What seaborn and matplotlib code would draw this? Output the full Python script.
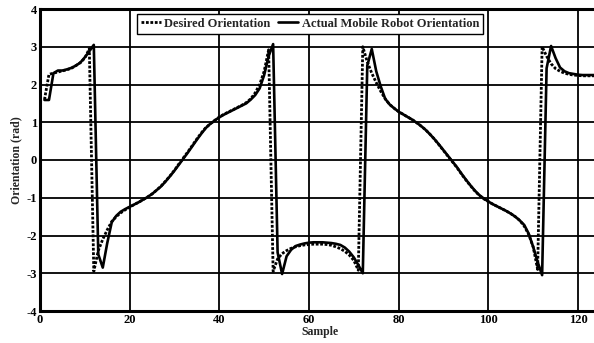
import numpy as np
import pandas as pd
import matplotlib
matplotlib.use("Agg")
import matplotlib.pyplot as plt
import seaborn as sns

samples = list(range(1, 125))

desired = [
    1.60, 2.27, 2.30, 2.33, 2.36, 2.39, 2.43, 2.50, 2.58, 2.70, 2.95,          # 1-11
    -2.95, -2.40, -2.10, -1.85, -1.63, -1.50, -1.40, -1.32, -1.25,               # 12-20
    -1.18, -1.12, -1.05, -0.98, -0.90, -0.80, -0.69, -0.56, -0.42, -0.27,       # 21-30
    -0.10, 0.06, 0.22, 0.39, 0.56, 0.72, 0.86, 0.96, 1.05, 1.14,                # 31-40
    1.21, 1.27, 1.33, 1.39, 1.45, 1.52, 1.62, 1.78, 2.00, 2.35, 2.92,           # 41-51
    -2.95, -2.62, -2.48, -2.40, -2.34, -2.30, -2.27, -2.25, -2.24,               # 52-60
    -2.23, -2.23, -2.23, -2.24, -2.26, -2.30, -2.35, -2.42, -2.52, -2.66, -2.92, # 61-71
    3.00, 2.60, 2.30, 2.05, 1.82, 1.62, 1.47, 1.37, 1.28,                        # 72-80
    1.21, 1.14, 1.07, 0.99, 0.90, 0.80, 0.68, 0.55, 0.40, 0.25,                 # 81-90
    0.10, -0.05, -0.20, -0.37, -0.53, -0.68, -0.82, -0.94, -1.03, -1.10,        # 91-100
    -1.17, -1.23, -1.29, -1.35, -1.42, -1.50, -1.60, -1.75, -1.97, -2.30, -2.90, # 101-111
    3.00, 2.75, 2.55, 2.42, 2.35, 2.30, 2.27, 2.25, 2.24, 2.23, 2.23, 2.23, 2.23, # 112-124
]

actual = [
    1.59, 1.59, 2.30, 2.37, 2.37, 2.40, 2.44, 2.50, 2.58, 2.72, 2.88, 3.05,     # 1-12
    -2.50, -2.85, -2.20, -1.65, -1.48, -1.37, -1.30, -1.24,                      # 13-20
    -1.18, -1.12, -1.05, -0.98, -0.90, -0.80, -0.70, -0.57, -0.43, -0.28,       # 21-30
    -0.12, 0.04, 0.20, 0.37, 0.54, 0.70, 0.85, 0.96, 1.05, 1.13,                # 31-40
    1.20, 1.26, 1.32, 1.38, 1.44, 1.50, 1.60, 1.72, 1.90, 2.25, 2.75, 3.07,     # 41-52
    -2.45, -3.02, -2.55, -2.38, -2.28, -2.24, -2.21, -2.19,                      # 53-60
    -2.18, -2.18, -2.18, -2.19, -2.20, -2.22, -2.25, -2.32, -2.43, -2.58, -2.78, -3.00, # 61-72
    2.50, 2.94, 2.35, 1.95, 1.62, 1.47, 1.37, 1.28,                              # 73-80
    1.21, 1.14, 1.07, 0.99, 0.90, 0.80, 0.68, 0.55, 0.41, 0.26,                 # 81-90
    0.11, -0.04, -0.19, -0.36, -0.52, -0.67, -0.81, -0.93, -1.02, -1.10,        # 91-100
    -1.17, -1.23, -1.29, -1.35, -1.42, -1.50, -1.60, -1.72, -1.95, -2.30, -2.70, -3.05, # 101-112
    2.43, 3.02, 2.70, 2.45, 2.35, 2.30, 2.28, 2.26, 2.25, 2.25, 2.25, 2.25,     # 113-124
]

x_ticks = [0, 20, 40, 60, 80, 100, 120]
y_ticks = [-4, -3, -2, -1, 0, 1, 2, 3, 4]

sns.set_style("white")
plt.rcParams["font.family"] = ["Liberation Serif", "DejaVu Serif"]
plt.rcParams["font.weight"] = "bold"
plt.rcParams["axes.labelweight"] = "bold"
plt.rcParams["axes.unicode_minus"] = False

fig = plt.figure(figsize=(5.94, 3.43), dpi=100)
ax = fig.add_axes([40 / 594, 32 / 343, 560.4 / 594, 302 / 343])

df = pd.DataFrame({"Sample": samples, "desired": desired, "actual": actual})
sns.lineplot(data=df, x="Sample", y="desired", ax=ax, color="black",
             linestyle=(0, (1, 0.6)), linewidth=2.0, label="Desired Orientation")
sns.lineplot(data=df, x="Sample", y="actual", ax=ax, color="black",
             linestyle="-", linewidth=1.9, label="Actual Mobile Robot Orientation")

ax.set_xlim(0, 125)
ax.set_ylim(-4, 4)
ax.set_xticks(x_ticks)
ax.set_yticks(y_ticks)
ax.grid(True, color="black", linewidth=1.3)
ax.set_axisbelow(True)
ax.tick_params(direction="in", length=3, width=1, labelsize=9, pad=2, colors="black")
for lab in ax.get_xticklabels() + ax.get_yticklabels():
    lab.set_fontweight("bold")
for side in ["top", "bottom", "left", "right"]:
    ax.spines[side].set_color("black")
    ax.spines[side].set_linewidth(2.2)

ax.set_xlabel("Sample", fontsize=8.5, fontweight="bold", labelpad=0)
ax.set_ylabel("Orientation (rad)", fontsize=8.5, fontweight="bold", labelpad=3)

leg = ax.legend(loc="upper left", bbox_to_anchor=(137 / 594, 1 - 14 / 343),
                bbox_transform=fig.transFigure, ncol=2, fontsize=9,
                frameon=True, fancybox=False, framealpha=1, edgecolor="black",
                handlelength=1.6, handletextpad=0.3, columnspacing=0.6,
                borderpad=0.3, borderaxespad=0)
leg.get_frame().set_linewidth(1.0)
for t in leg.get_texts():
    t.set_fontweight("bold")

fig.savefig("out.png", dpi=100)
